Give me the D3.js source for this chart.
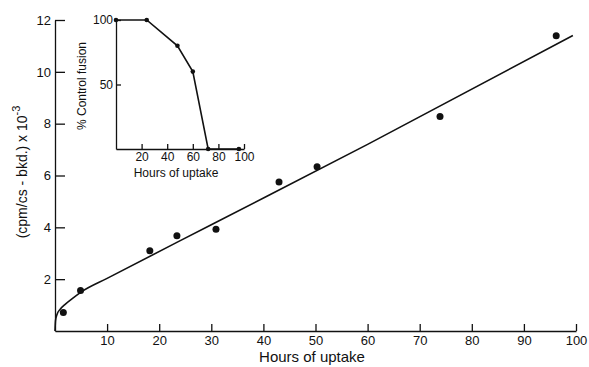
<!DOCTYPE html>
<html>
<head>
<meta charset="utf-8">
<script src="https://cdn.jsdelivr.net/npm/d3@7"></script>
<style>
  body { margin: 0; background: #fff; }
  svg { display: block; font-family: "Liberation Sans", Arial, sans-serif; }
  .axis path, .axis line { stroke: #111; stroke-width: 1.3; }
  .axis text { fill: #111; }
</style>
</head>
<body>
<script>
//main plot data: hours of uptake vs (cpm/cs - bkd.) x 10^-3
var uptakeHours = [1.6, 4.9, 18.2, 23.4, 30.9, 43, 50.3, 73.9, 96.2];
var uptakeCounts = [0.71, 1.56, 3.1, 3.68, 3.93, 5.75, 6.34, 8.28, 11.39];
//hand drawn fit through the points
var fitHours = [0, 0.1, 0.4, 1, 2, 3.5, 5, 10, 30, 60, 99.4];
var fitCounts = [0, 0.4, 0.65, 0.84, 1.04, 1.28, 1.5, 2.03, 4.1, 7.2, 11.4];
var xTicks = [10, 20, 30, 40, 50, 60, 70, 80, 90, 100];
var yTicks = [2, 4, 6, 8, 10, 12];

//inset data: % control fusion
var insetHours = [0, 24, 48, 60, 72, 96];
var insetFusion = [100, 100, 80, 60, 0, 0];
var insetXTicks = [20, 40, 60, 80, 100];
var insetYTicks = [50, 100];

(function () {
    var width = 589, height = 367;

    var svg = d3.select("body").append("svg")
        .attr("width", width)
        .attr("height", height);

    //main scales
    var x = d3.scaleLinear().domain([0, 100]).range([55, 576]);
    var y = d3.scaleLinear().domain([0, 12]).range([331, 20]);

    var xAxis = d3.axisBottom(x)
        .tickValues(xTicks)
        .tickSizeInner(-7)
        .tickSizeOuter(0)
        .tickPadding(5);

    svg.append("g")
        .attr("class", "axis")
        .attr("transform", "translate(0," + y(0) + ")")
        .call(xAxis)
        .selectAll("text")
        .attr("font-size", 13)
        .attr("font-family", "Liberation Sans, sans-serif");

    var yAxis = d3.axisLeft(y)
        .tickValues(yTicks)
        .tickSizeInner(-10)
        .tickSizeOuter(0)
        .tickPadding(4);

    svg.append("g")
        .attr("class", "axis")
        .attr("transform", "translate(" + x(0) + ",0)")
        .call(yAxis)
        .selectAll("text")
        .attr("font-size", 13)
        .attr("font-family", "Liberation Sans, sans-serif");

    //fit line
    var line = d3.line()
        .x(function (d) { return x(d[0]); })
        .y(function (d) { return y(d[1]); })
        .curve(d3.curveMonotoneX);

    svg.append("path")
        .datum(d3.zip(fitHours, fitCounts))
        .attr("d", line)
        .attr("fill", "none")
        .attr("stroke", "#111")
        .attr("stroke-width", 1.6);

    svg.selectAll(".dot")
        .data(d3.zip(uptakeHours, uptakeCounts))
        .enter()
        .append("circle")
        .attr("class", "dot")
        .attr("cx", function (d) { return x(d[0]); })
        .attr("cy", function (d) { return y(d[1]); })
        .attr("r", 3.5)
        .attr("fill", "#111");

    //axis titles
    svg.append("text")
        .attr("x", 312)
        .attr("y", 362)
        .attr("text-anchor", "middle")
        .attr("font-size", 15)
        .attr("fill", "#111")
        .text("Hours of uptake");

    var yTitle = svg.append("text")
        .attr("transform", "translate(27,172) rotate(-90)")
        .attr("text-anchor", "middle")
        .attr("font-size", 14)
        .attr("fill", "#111");
    yTitle.append("tspan").text("(cpm/cs - bkd.) x 10");
    yTitle.append("tspan")
        .attr("dy", -7)
        .attr("font-size", 11)
        .text("-3");

    //inset
    var ix = d3.scaleLinear().domain([0, 100]).range([116, 244]);
    var iy = d3.scaleLinear().domain([0, 100]).range([149, 20]);

    svg.append("g")
        .attr("class", "axis")
        .attr("transform", "translate(0," + iy(0) + ")")
        .call(d3.axisBottom(ix)
            .tickValues(insetXTicks)
            .tickSizeInner(-5)
            .tickSizeOuter(0)
            .tickPadding(3))
        .selectAll("text")
        .attr("font-size", 12)
        .attr("font-family", "Liberation Sans, sans-serif");

    svg.append("g")
        .attr("class", "axis")
        .attr("transform", "translate(" + ix(0) + ",0)")
        .call(d3.axisLeft(iy)
            .tickValues(insetYTicks)
            .tickSizeInner(-5)
            .tickSizeOuter(0)
            .tickPadding(3))
        .selectAll("text")
        .attr("font-size", 12)
        .attr("font-family", "Liberation Sans, sans-serif");

    var insetLine = d3.line()
        .x(function (d) { return ix(d[0]); })
        .y(function (d) { return iy(d[1]); });

    svg.append("path")
        .datum(d3.zip(insetHours, insetFusion))
        .attr("d", insetLine)
        .attr("fill", "none")
        .attr("stroke", "#111")
        .attr("stroke-width", 1.6);

    svg.selectAll(".idot")
        .data(d3.zip(insetHours, insetFusion))
        .enter()
        .append("circle")
        .attr("class", "idot")
        .attr("cx", function (d) { return ix(d[0]); })
        .attr("cy", function (d) { return iy(d[1]); })
        .attr("r", 2.3)
        .attr("fill", "#111");

    svg.append("text")
        .attr("x", 176)
        .attr("y", 177)
        .attr("text-anchor", "middle")
        .attr("font-size", 12)
        .attr("fill", "#111")
        .text("Hours of uptake");

    svg.append("text")
        .attr("transform", "translate(86,86) rotate(-90)")
        .attr("text-anchor", "middle")
        .attr("font-size", 12)
        .attr("fill", "#111")
        .text("% Control fusion");
})();
</script>
</body>
</html>
